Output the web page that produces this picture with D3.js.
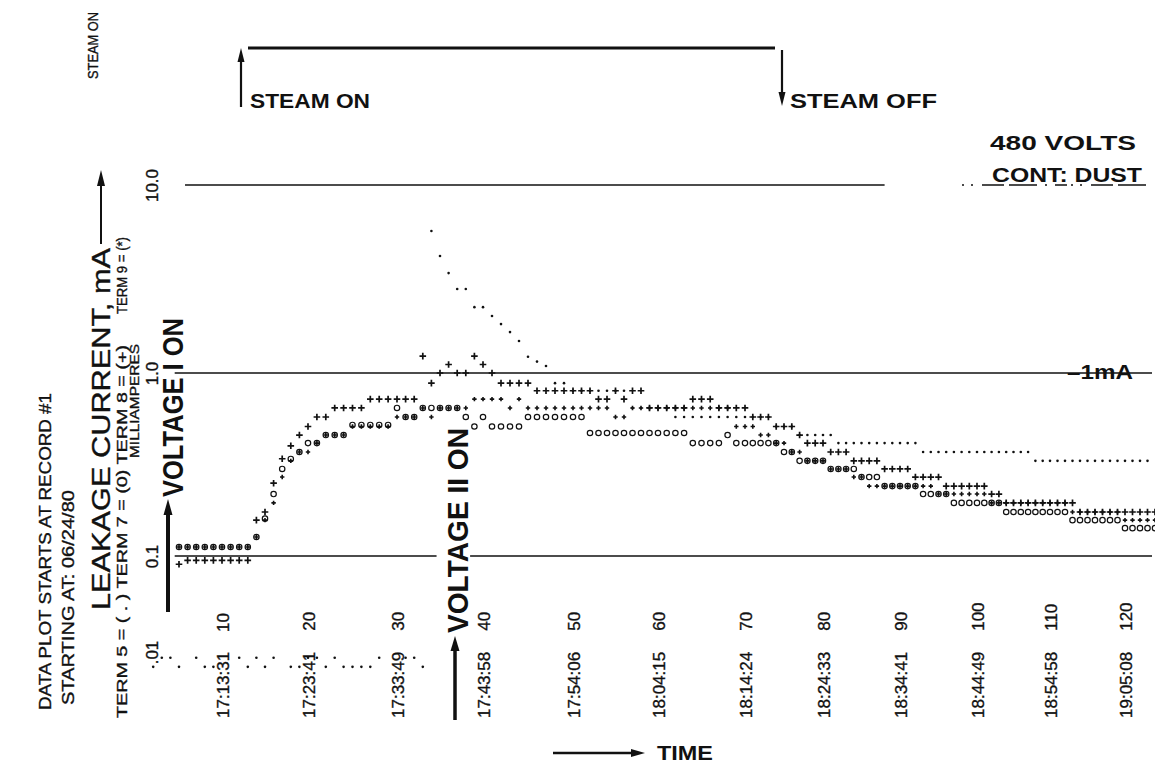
<!DOCTYPE html>
<html>
<head>
<meta charset="utf-8">
<script src="https://cdn.jsdelivr.net/npm/d3@7"></script>
<style>
  body { margin: 0; background: #fff; }
  svg { display: block; }
  text { font-family: "Liberation Sans", Arial, Helvetica, sans-serif; fill: #111; }
  text.thin { stroke: #111; stroke-width: 0.35px; }
</style>
</head>
<body>
<svg id="svg"></svg>
<script>
// Record numbers on the time axis and the clock time printed at each
const tickRecords = [10, 20, 30, 40, 50, 60, 70, 80, 90, 100, 110, 120];
const tickTimes = ["17:13:31", "17:23:41", "17:33:49", "17:43:58", "17:54:06", "18:04:15",
                   "18:14:24", "18:24:33", "18:34:41", "18:44:49", "18:54:58", "19:05:08"];

// Leakage current axis (mA, log)
const yTickValues = [0.01, 0.1, 1, 10];
const yTickLabels = [".01", "0.1", "1.0", "10.0"];

// Term 5 ( . ) - one value per record, starting at record 2 (null = nothing printed)
const term5Start = 2;
const term5 = [0.007, 0.0087, 0.0087, 0.007, null, 0.0087, 0.007, 0.007, null, null,
  0.0087, 0.007, 0.0087, 0.007, 0.0087, null, 0.007, 0.007, 0.0087, 0.0087,
  0.007, 0.0087, 0.007, 0.007, 0.007, 0.007, 0.0087, null, null, 0.0087,
  0.0087, 0.007,
  5.69, 4.19, 3.40, 2.80, 2.80, 2.24, 2.24, 2.01, 1.82, 1.65, 1.48, 1.22, 1.15, 1.09, 0.88, 0.88,
  0.80, 0.80, 0.80, 0.80, 0.80, 0.80, 0.80,
  0.644, 0.644, 0.644, 0.644, 0.644,
  0.575, 0.575, 0.575, 0.575, 0.575, 0.575, 0.575, 0.575, 0.575, 0.575, 0.575, 0.575,
  0.51, 0.51, 0.51,
  0.458, 0.458, 0.458, 0.458, 0.458,
  0.414, 0.414, 0.414, 0.414, 0.414, 0.414, 0.414, 0.414, 0.414, 0.414, 0.414,
  0.37, 0.37, 0.37, 0.37, 0.37, 0.37, 0.37, 0.37, 0.37, 0.37, 0.37, 0.37, 0.37, 0.37, 0.37,
  0.331, 0.331, 0.331, 0.331, 0.331, 0.331, 0.331, 0.331, 0.331, 0.331, 0.331, 0.331, 0.331, 0.331, 0.331, 0.331];

// Term 7 (o) - starting at record 5
const term7Start = 5;
const term7 = [0.112, 0.112, 0.112, 0.112, 0.112, 0.112, 0.112, 0.112, 0.112,
  0.127, 0.16, 0.218, 0.299, 0.339, 0.37, 0.414, 0.414, 0.458, 0.458, 0.458,
  0.52, 0.52, 0.52, 0.52, 0.52,
  0.644, 0.575, 0.575, 0.644, 0.644, 0.644, 0.644, 0.644, 0.575, 0.51, 0.575,
  0.51, 0.51, 0.51, 0.51,
  0.575, 0.575, 0.575, 0.575, 0.575, 0.575, 0.575,
  0.47, 0.47, 0.47, 0.47, 0.47, 0.47, 0.47, 0.47, 0.47, 0.47, 0.47, 0.47,
  0.414, 0.414, 0.414, 0.414, 0.458, 0.414, 0.414, 0.414, 0.414, 0.414, 0.414,
  0.37, 0.37, 0.331, 0.331, 0.331, 0.331, 0.299, 0.299, 0.299, 0.299,
  0.27, 0.27, 0.27, 0.241, 0.241, 0.241, 0.241, 0.241,
  0.218, 0.218, 0.218, 0.218,
  0.195, 0.195, 0.195, 0.195, 0.195, 0.195, 0.195,
  0.174, 0.174, 0.174, 0.174, 0.174, 0.174, 0.174, 0.174, 0.174,
  0.157, 0.157, 0.157, 0.157, 0.157, 0.157, 0.157,
  0.142, 0.142, 0.142, 0.142, 0.142];

// Term 8 (+) - starting at record 5
const term8Start = 5;
const term8 = [0.082, 0.09, 0.09, 0.09, 0.09, 0.09, 0.09, 0.09, 0.09,
  0.157, 0.174, 0.25, 0.34, 0.40, 0.458, 0.51, 0.575, 0.575,
  0.644, 0.644, 0.644, 0.644,
  0.72, 0.72, 0.72, 0.72, 0.72, 0.72,
  1.23, 0.88, 1.0, 1.11, 1.0, 1.0, 1.23, 1.11, 1.0,
  0.88, 0.88, 0.88, 0.88,
  0.80, 0.80, 0.80, 0.80, 0.80, 0.80, 0.80,
  0.72, 0.72, 0.80, 0.72, 0.80, 0.80,
  0.644, 0.644, 0.644, 0.644, 0.644,
  0.72, 0.72, 0.72, 0.644, 0.644, 0.644, 0.644,
  0.575, 0.575, 0.575, 0.51, 0.51, 0.51, 0.458,
  0.414, 0.414, 0.414, 0.37, 0.37, 0.37,
  0.331, 0.331, 0.331, 0.331, 0.299, 0.299, 0.299, 0.299,
  0.27, 0.27, 0.27, 0.27, 0.241, 0.241, 0.241, 0.241, 0.241, 0.241,
  0.218, 0.218,
  0.195, 0.195, 0.195, 0.195, 0.195, 0.195, 0.195, 0.195, 0.195, 0.195,
  0.174, 0.174, 0.174, 0.174, 0.174, 0.174, 0.174, 0.174, 0.174, 0.174, 0.174];

// Term 9 (*) - starting at record 5
const term9Start = 5;
const term9 = [0.112, 0.112, 0.112, 0.112, 0.112, 0.112, 0.112, 0.112, 0.112,
  0.127, 0.157, 0.195, 0.27, 0.331, 0.37, 0.37, 0.414, 0.458, 0.458, 0.458,
  0.51, 0.51, 0.51, 0.51, 0.51, 0.575, 0.575, 0.575,
  0.644, 0.575, 0.644, 0.644, 0.644, 0.644, 0.72, 0.72, 0.72, 0.72, 0.644, 0.72,
  0.644, 0.644, 0.644, 0.644, 0.644, 0.644, 0.644, 0.644, 0.644, 0.644,
  0.575, 0.575,
  0.644, 0.644, 0.644, 0.644, 0.644, 0.644, 0.644, 0.644, 0.644, 0.644, 0.644, 0.644,
  0.51, 0.51, 0.51, 0.458, 0.458, 0.414, 0.414, 0.37, 0.37,
  0.331, 0.331, 0.331, 0.299, 0.299, 0.299, 0.27, 0.27,
  0.241, 0.241, 0.241, 0.241, 0.241, 0.241, 0.241, 0.241, 0.241,
  0.218, 0.218, 0.218, 0.218, 0.218, 0.218, 0.218,
  0.195, 0.195, 0.195, 0.195, 0.195, 0.195, 0.195, 0.195, 0.195, 0.195, 0.195,
  0.174, 0.174, 0.174, 0.174, 0.174, 0.174, 0.174,
  0.157, 0.157, 0.157, 0.157, 0.157];

const width = 1155;
const height = 763;
const ink = "#111";

let svg = d3.select("#svg").attr("width", width).attr("height", height);
svg.append("rect").attr("width", width).attr("height", height).attr("fill", "#fff");

// Record -> pixel. The printed ticks are not evenly spaced, so the scale is piecewise.
const x = d3.scaleLinear()
  .domain([0, 10, 20, 30, 40, 50, 60, 70, 80, 90, 100, 110, 120, 130])
  .range([136, 222, 308, 397, 483, 573, 658, 745, 823, 900, 977, 1050, 1125, 1200]);

// log10(mA) -> pixel, also piecewise (the .01 decade is squeezed on the print)
const yLog = d3.scaleLinear().domain([-2, -1, 0, 1]).range([652, 556, 373, 185]);
const y = v => yLog(Math.log10(v));

function toPoints(values, start) {
  return values.map((v, i) => ({ r: start + i, v: v })).filter(d => d.v !== null);
}

// vertical text reading bottom-to-top, centred on cx, starting at y0
function vText(cx, y0, str, size, len, weight) {
  return svg.append("text")
    .attr("class", weight ? null : "thin")
    .attr("transform", "translate(" + cx + "," + y0 + ") rotate(-90)")
    .attr("dy", "0.36em")
    .attr("textLength", len)
    .attr("lengthAdjust", "spacingAndGlyphs")
    .style("font-size", size + "px")
    .style("font-weight", weight || "normal")
    .text(str);
}

function hText(x0, yb, str, size, len, weight) {
  return svg.append("text")
    .attr("x", x0).attr("y", yb)
    .attr("textLength", len)
    .attr("lengthAdjust", "spacingAndGlyphs")
    .style("font-size", size + "px")
    .style("font-weight", weight || "bold")
    .text(str);
}

// straight arrow, head at (x2,y2)
function arrow(x1, y1, x2, y2, w, headLen, headW) {
  const a = Math.atan2(y2 - y1, x2 - x1);
  const bx = x2 - headLen * Math.cos(a), by = y2 - headLen * Math.sin(a);
  svg.append("line")
    .attr("x1", x1).attr("y1", y1).attr("x2", bx).attr("y2", by)
    .attr("stroke", ink).attr("stroke-width", w);
  const px = -Math.sin(a) * headW / 2, py = Math.cos(a) * headW / 2;
  svg.append("path")
    .attr("d", "M" + x2 + "," + y2 + "L" + (bx + px) + "," + (by + py) + "L" + (bx - px) + "," + (by - py) + "Z")
    .attr("fill", ink);
}

function drawFrame() {
  // horizontal decade lines
  const grid = [
    { v: 10, from: 5.7, to: 88 },
    { v: 1, from: 4.5, to: 123.6 },
    { v: 0.1, from: 4.5, to: 34.6 },
    { v: 0.1, from: 38.5, to: 123.6 }
  ];
  svg.selectAll(".grid").data(grid).join("line")
    .attr("class", "grid")
    .attr("x1", d => x(d.from)).attr("x2", d => x(d.to))
    .attr("y1", d => y(d.v)).attr("y2", d => y(d.v))
    .attr("stroke", ink).attr("stroke-width", 1.4);

  // underline of CONT: DUST, continuing the 10 line
  svg.append("line")
    .attr("x1", 962).attr("x2", 1152).attr("y1", y(10)).attr("y2", y(10))
    .attr("stroke", ink).attr("stroke-width", 1.3)
    .attr("stroke-dasharray", "2,7,2,9,22,5,28,8,2,8,12,4");

  // y axis labels
  const yAxis = d3.axisLeft(yLog)
    .tickValues(yTickValues.map(Math.log10))
    .tickSize(0)
    .tickFormat((d, i) => yTickLabels[i]);
  const gy = svg.append("g").attr("transform", "translate(152,0)").call(yAxis);
  gy.attr("font-size", null).attr("font-family", null);
  gy.select(".domain").remove();
  gy.selectAll("text")
    .attr("class", "thin")
    .attr("x", 0).attr("dy", "0.36em")
    .attr("transform", "rotate(-90)")
    .attr("text-anchor", "middle")
    .style("font-size", "17px");

  // x axis labels: clock time, then record number
  const xAxis = d3.axisBottom(x)
    .tickValues(tickRecords)
    .tickSize(0)
    .tickFormat((d, i) => tickTimes[i]);
  const gx = svg.append("g").attr("transform", "translate(0,718)").call(xAxis);
  gx.attr("font-size", null).attr("font-family", null);
  gx.select(".domain").remove();
  gx.selectAll("text")
    .attr("class", "thin")
    .attr("y", 0).attr("x", 0).attr("dy", "0.36em")
    .attr("transform", "rotate(-90)")
    .attr("text-anchor", "start")
    .style("font-size", "17px")
    .each(function(d) {
      d3.select(this).append("tspan").attr("dx", 21).text(d);
    });
}

function drawSeries() {
  const plot = svg.append("g");

  plot.selectAll(".t5").data(toPoints(term5, term5Start)).join("circle")
    .attr("class", "t5")
    .attr("cx", d => x(d.r)).attr("cy", d => y(d.v))
    .attr("r", 1.3).attr("fill", ink);

  plot.selectAll(".t7").data(toPoints(term7, term7Start)).join("circle")
    .attr("class", "t7")
    .attr("cx", d => x(d.r)).attr("cy", d => y(d.v))
    .attr("r", 2.7).attr("fill", "none")
    .attr("stroke", ink).attr("stroke-width", 1.2);

  plot.selectAll(".t8").data(toPoints(term8, term8Start)).join("path")
    .attr("class", "t8")
    .attr("transform", d => "translate(" + x(d.r) + "," + y(d.v) + ")")
    .attr("d", "M-3.3,0H3.3M0,-3.3V3.3")
    .attr("stroke", ink).attr("stroke-width", 1.7);

  plot.selectAll(".t9").data(toPoints(term9, term9Start)).join("path")
    .attr("class", "t9")
    .attr("transform", d => "translate(" + x(d.r) + "," + y(d.v) + ")")
    .attr("d", "M-2.2,0H2.2M0,-2.2V2.2")
    .attr("stroke", ink).attr("stroke-width", 1.6);
}

function drawNotes() {
  // left margin captions
  vText(93, 79, "STEAM ON", 15, 67);
  vText(45, 710, "DATA PLOT STARTS AT RECORD #1", 17, 317);
  vText(68, 705, "STARTING AT:  06/24/80", 17, 215);
  vText(101, 610, "LEAKAGE CURRENT,  mA", 25, 362);
  arrow(101, 244, 101, 170, 2, 16, 8);
  vText(122, 718, "TERM 5 = ( . ) TERM 7 = (0) TERM 8 = (+)", 15, 373);
  vText(134, 458, "MILLIAMPERES", 13, 114);
  vText(122, 314, "TERM 9 = (*)", 14, 77);

  // voltage events
  arrow(168, 612, 168, 499, 4, 16, 9);
  vText(172, 497, "VOLTAGE I ON", 30, 179, "bold");
  arrow(455, 720, 455, 636, 3.5, 15, 9);
  vText(457, 633, "VOLTAGE II ON", 30, 205, "bold");

  // steam on / off bar
  svg.append("line").attr("x1", 248).attr("x2", 775).attr("y1", 48).attr("y2", 48)
    .attr("stroke", ink).attr("stroke-width", 3);
  arrow(241, 107, 241, 48, 2.2, 14, 7);
  arrow(782, 50, 782, 106, 2.2, 14, 7);
  hText(250, 108, "STEAM ON", 20, 120, "bold");
  hText(790, 108, "STEAM OFF", 20, 147, "bold");

  hText(990, 150, "480 VOLTS", 21, 146, "bold");
  hText(992, 182, "CONT: DUST", 21, 150, "bold");
  hText(1067, 379, "\u20131mA", 21, 66, "bold");

  arrow(553, 753, 645, 753, 2.5, 14, 8);
  hText(657, 760, "TIME", 21, 56, "bold");
}

drawFrame();
drawSeries();
drawNotes();
</script>
</body>
</html>
